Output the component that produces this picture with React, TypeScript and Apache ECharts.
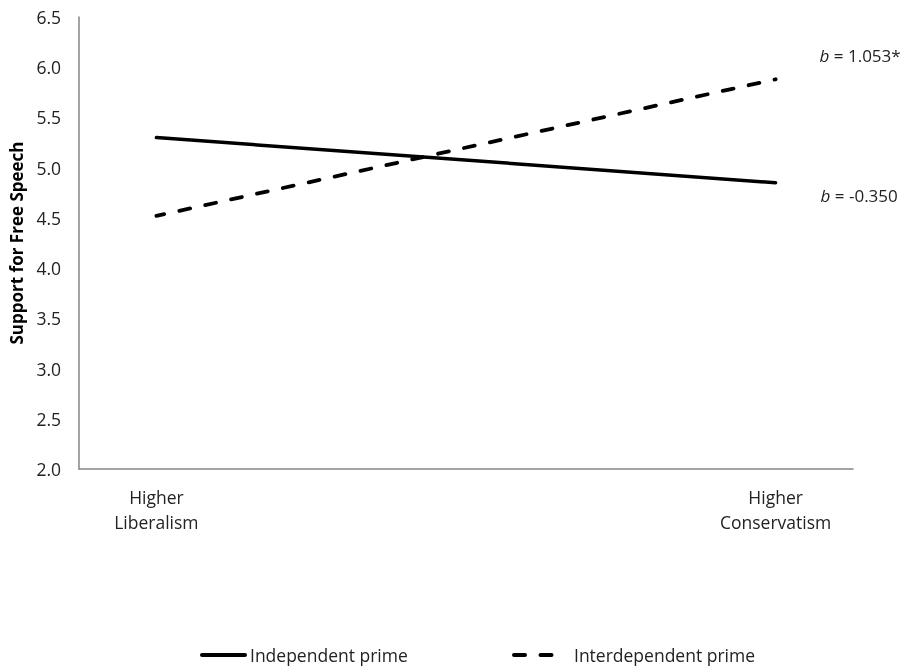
import React, { useEffect, useRef } from "react";
import * as echarts from "echarts";

const xPositions = [0, 1];
const xLabels = ["Higher\nLiberalism", "Higher\nConservatism"];
const independentPrime = [5.3, 4.85];
const interdependentPrime = [4.52, 5.88];
const seriesNames = ["Independent prime", "Interdependent prime"];
const slopeLabels = ["-0.350", "1.053*"];
const yTicks = { min: 2.0, max: 6.5, interval: 0.5 };

const FONT = "'Open Sans', 'Noto Sans', sans-serif";
const TXT = "#222";

export default function App() {
  const ref = useRef<HTMLDivElement>(null);
  useEffect(() => {
    if (!ref.current) return;
    const chart = echarts.init(ref.current, null, { renderer: "svg" });
    const mk = (name: string, vals: number[], dashed: boolean, label: string, offset: number[]) => ({
      name,
      type: "line",
      data: vals.map((v, i) => [xPositions[i], v]),
      symbol: "none",
      lineStyle: {
        color: "#000",
        width: dashed ? 3.8 : 3.5,
        type: dashed ? [11, 15.5] : "solid",
        dashOffset: dashed ? 3 : 0,
        cap: "round",
      },
      itemStyle: { color: "#000" },
      endLabel: {
        show: true,
        offset,
        formatter: () => `{i|b} = ${label}`,
        rich: {
          i: { fontStyle: "italic", fontFamily: FONT, fontSize: 17, color: TXT },
        },
        fontFamily: FONT,
        fontSize: 17,
        color: TXT,
      },
    });
    const legendBase = {
      top: 646,
      padding: 0,
      itemWidth: 43,
      itemHeight: 14,
      itemStyle: { opacity: 0 },
      lineStyle: { width: 4, cap: "round", dashOffset: 0 },
      textStyle: { fontSize: 17.5, color: TXT, fontFamily: FONT },
    };
    chart.setOption({
      animation: false,
      textStyle: { fontFamily: FONT },
      grid: { left: 79, right: 53, top: 17, bottom: 197, containLabel: false },
      xAxis: {
        type: "value",
        min: -0.125,
        max: 1.125,
        interval: 0.125,
        axisLine: { show: true, onZero: false, lineStyle: { color: "#868686", width: 1.5 } },
        axisTick: { show: false },
        splitLine: { show: false },
        axisLabel: {
          margin: 15,
          fontSize: 17.5,
          lineHeight: 25,
          color: TXT,
          fontFamily: FONT,
          hideOverlap: false,
          showMinLabel: true,
          showMaxLabel: true,
          formatter: (v: number) => {
            const idx = xPositions.findIndex((p) => Math.abs(p - v) < 1e-6);
            return idx >= 0 ? xLabels[idx] : "";
          },
        },
      },
      yAxis: {
        type: "value",
        min: yTicks.min,
        max: yTicks.max,
        interval: yTicks.interval,
        name: "Support for Free Speech",
        nameLocation: "middle",
        nameGap: 52,
        nameTextStyle: { fontSize: 17, fontWeight: "bold", color: "#000", fontFamily: FONT },
        axisLine: { show: true, onZero: false, lineStyle: { color: "#868686", width: 1.5 } },
        axisTick: { show: false },
        splitLine: { show: false },
        axisLabel: {
          margin: 18,
          fontSize: 17.5,
          color: TXT,
          fontFamily: FONT,
          formatter: (v: number) => v.toFixed(1),
        },
      },
      legend: [
        { ...legendBase, left: 200, data: [seriesNames[0]] },
        {
          ...legendBase,
          left: 512,
          data: [seriesNames[1]],
          textStyle: { ...legendBase.textStyle, padding: [0, 0, 0, 12] },
        },
      ],
      series: [
        mk(seriesNames[0], independentPrime, false, slopeLabels[0], [37, 13]),
        mk(seriesNames[1], interdependentPrime, true, slopeLabels[1], [36, -24]),
      ],
    });
    return () => chart.dispose();
  }, []);
  return (
    <div
      ref={ref}
      style={{ position: "fixed", left: 0, top: 0, width: 906, height: 666 }}
    />
  );
}
